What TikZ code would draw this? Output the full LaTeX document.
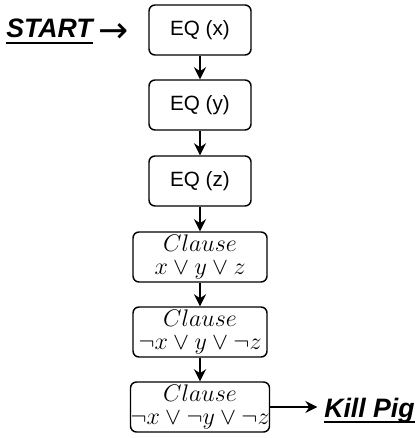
\RequirePackage{fix-cm}
\documentclass[tikz,border=0pt]{standalone}
\usepackage{fontspec}
\newfontfamily\arial{Liberation Sans}
\newfontfamily\dejavu{DejaVu Sans}
\usetikzlibrary{arrows.meta}
\newcommand\myul[1]{\setbox0\hbox{#1}\rlap{\rule[-4.8pt]{\wd0}{1.6pt}}\box0}
\begin{document}
\begin{tikzpicture}[x=0.75pt,y=-0.75pt,
 box/.style={draw, line width=1.1pt, rounded corners=4.5pt, inner sep=0pt, minimum height=37.5pt, align=center},
 eqbox/.style={box, minimum width=76.5pt, font=\arial\fontsize{15.5}{18}\selectfont},
 clbox/.style={box, minimum width=100.5pt, font=\fontsize{18}{17.25}\selectfont},
 flow/.style={line width=1.1pt, -{Stealth[length=9pt,width=9pt]}},
 lbl/.style={font=\arial\bfseries\itshape\fontsize{20}{22}\selectfont, inner sep=0pt}]
\useasboundingbox (0,0) rectangle (419,438);
\node[eqbox] (e1) at (200,30) {EQ (x)};
\node[eqbox] (e2) at (200,105) {EQ (y)};
\node[eqbox] (e3) at (200,181) {EQ (z)};
\node[clbox] (c1) at (200,257) {$Clause$\\$x\vee y\vee z$};
\node[clbox] (c2) at (200,332) {$Clause$\\$\neg x\vee y\vee\neg z$};
\node[clbox] (c3) at (200,407) {$Clause$\\$\neg x\vee\neg y\vee\neg z$};
\node[lbl, anchor=base west] (start) at (6,38) {\myul{START}};
\node[font=\dejavu\fontsize{27}{27}\selectfont, anchor=west, inner sep=0pt] (arr) at (98,33) {→};
\node[lbl, anchor=base west] (kill) at (324,417) {\myul{Kill Pig}};
\draw[flow] (e1) -- (e2);
\draw[flow] (e2) -- (e3);
\draw[flow] (e3) -- (c1);
\draw[flow] (c1) -- (c2);
\draw[flow] (c2) -- (c3);
\draw[flow] (c3.east) -- ([xshift=-5pt]c3.east -| kill.west);
\end{tikzpicture}
\end{document}
